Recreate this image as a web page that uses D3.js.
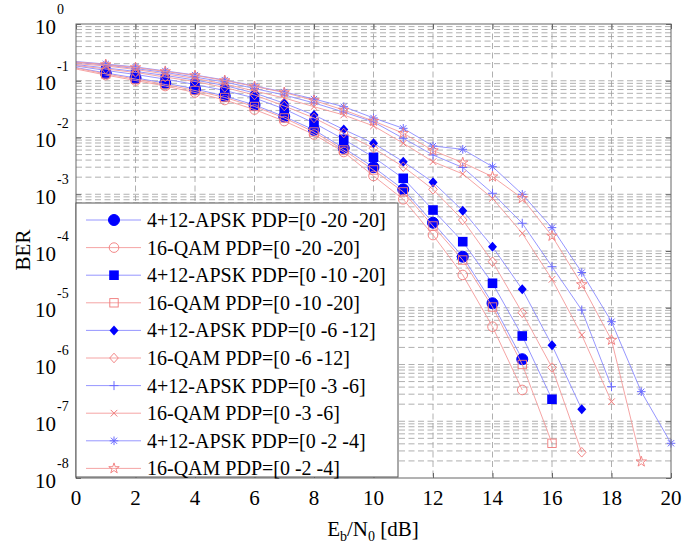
<!DOCTYPE html>
<html><head><meta charset="utf-8">
<script src="https://cdn.jsdelivr.net/npm/d3@7"></script>
<style>body{margin:0;background:#fff}</style>
</head><body><svg id="chart" width="685" height="549"></svg>
<script>
// ---- data ----
const ebn0 = [0,1,2,3,4,5,6,7,8,9,10,11,12,13,14,15,16,17,18,19,20];
const xTicks = [0,2,4,6,8,10,12,14,16,18,20];
const yTickExps = [0,-1,-2,-3,-4,-5,-6,-7,-8];
const legendLabels = [
  "4+12-APSK PDP=[0 -20 -20]","16-QAM PDP=[0 -20 -20]",
  "4+12-APSK PDP=[0 -10 -20]","16-QAM PDP=[0 -10 -20]",
  "4+12-APSK PDP=[0 -6 -12]","16-QAM PDP=[0 -6 -12]",
  "4+12-APSK PDP=[0 -3 -6]","16-QAM PDP=[0 -3 -6]",
  "4+12-APSK PDP=[0 -2 -4]","16-QAM PDP=[0 -2 -4]"];
const apsk_0_20_20 = [0.171,0.137,0.112,0.0912,0.0716,0.0538,0.0374,0.0234,0.0136,6.53e-3,2.99e-3,1.22e-3,3.15e-4,7.94e-5,1.20e-5,1.24e-6];
const qam_0_20_20  = [0.161,0.126,0.101,0.0808,0.0621,0.0458,0.0311,0.0195,0.0113,5.55e-3,2.1e-3,8.15e-4,1.91e-4,3.78e-5,4.64e-6,3.56e-7];
const apsk_0_10_20 = [0.182,0.152,0.129,0.107,0.0859,0.0673,0.0497,0.0318,0.0180,9.29e-3,4.48e-3,1.91e-3,5.27e-4,1.46e-4,2.70e-5,3.18e-6,2.44e-7];
const qam_0_10_20  = [0.168,0.132,0.107,0.0859,0.0673,0.0507,0.0352,0.0221,0.0125,6.02e-3,2.68e-3,1.10e-3,2.76e-4,6.94e-5,1.03e-5,1.00e-6,4.09e-8];
const apsk_0_6_12  = [0.193,0.168,0.146,0.124,0.103,0.0825,0.0608,0.0401,0.0249,0.0138,7.91e-3,3.75e-3,1.63e-3,5.13e-4,1.19e-4,2.11e-5,2.18e-6,1.62e-7];
const qam_0_6_12   = [0.186,0.161,0.140,0.116,0.0970,0.0760,0.0561,0.0359,0.0221,0.0120,6.45e-3,3.06e-3,1.22e-3,3.52e-4,6.48e-5,8.18e-6,8.85e-7,2.84e-8];
const apsk_0_3_6   = [0.210,0.190,0.164,0.140,0.116,0.0951,0.0730,0.0561,0.0406,0.0281,0.0188,9.68e-3,4.92e-3,2.96e-3,1.04e-3,3.08e-4,5.29e-5,9.12e-6,4.06e-7];
const qam_0_3_6    = [0.201,0.182,0.158,0.132,0.110,0.0877,0.0660,0.0497,0.0349,0.0249,0.0160,7.91e-3,3.75e-3,2.28e-3,8.49e-4,2.05e-4,3.17e-5,3.31e-6,2.21e-7];
const apsk_0_2_4   = [0.218,0.197,0.175,0.149,0.126,0.103,0.0808,0.0634,0.0477,0.0349,0.0221,0.0145,7.08e-3,6.19e-3,3.06e-3,9.98e-4,2.58e-4,4.18e-5,5.68e-6,3.32e-7,4.09e-8];
const qam_0_2_4    = [0.214,0.193,0.171,0.146,0.124,0.101,0.0792,0.0621,0.0449,0.0305,0.0195,0.0119,5.90e-3,3.60e-3,2.04e-3,8.49e-4,1.84e-4,2.57e-5,2.70e-6,1.94e-8];

const seriesData = [apsk_0_20_20,qam_0_20_20,apsk_0_10_20,qam_0_10_20,apsk_0_6_12,qam_0_6_12,apsk_0_3_6,qam_0_3_6,apsk_0_2_4,qam_0_2_4];
const markers = ["circleF","circleO","squareF","squareO","diamondF","diamondO","plus","cross","asterisk","star"];

// ---- layout ----
const FONT = "'Liberation Serif','Times New Roman',serif";
const L=76,R=671,T=24,B=478;
const svg = d3.select("#chart");
const x = d3.scaleLinear().domain([0,20]).range([L,R]);
const y = d3.scaleLog().domain([1e-8,1]).range([B,T]);

const BLUE="#0000ff", BLUEL="#6a6aff", RED="#f07a7a";
const LBLUE="#8a8aff", LRED="#f49a9a";

function txt(g){ return g.append("text").style("font-family",FONT).attr("fill","#000"); }

// grid
const grid = svg.append("g").attr("stroke","#9c9c9c").attr("stroke-width",0.8).attr("stroke-dasharray","6,3.5");
const gridVals=[];
for(let k=-8;k<0;k++){ for(let m=1;m<=9;m++){ gridVals.push(m*Math.pow(10,k)); } }
grid.selectAll("line.h").data(gridVals.filter((v,i)=>i>0)).enter().append("line")
  .attr("x1",L).attr("x2",R).attr("y1",d=>y(d)).attr("y2",d=>y(d));
grid.selectAll("line.v").data(xTicks.slice(1,-1)).enter().append("line")
  .attr("y1",T).attr("y2",B).attr("x1",d=>x(d)).attr("x2",d=>x(d));

// axes ticks (inward)
const axB = svg.append("g").attr("transform",`translate(0,${B})`)
  .call(d3.axisBottom(x).tickValues(xTicks).tickSize(-5).tickFormat(""));
axB.select(".domain").remove(); axB.selectAll("line").attr("stroke","#666");
const axT = svg.append("g").attr("transform",`translate(0,${T})`)
  .call(d3.axisTop(x).tickValues(xTicks).tickSize(-5).tickFormat(""));
axT.select(".domain").remove(); axT.selectAll("line").attr("stroke","#666");
const yTickVals = yTickExps.map(e=>Math.pow(10,e));
const axL = svg.append("g").attr("transform",`translate(${L},0)`)
  .call(d3.axisLeft(y).tickValues(yTickVals).tickSize(-5).tickFormat(""));
axL.select(".domain").remove(); axL.selectAll("line").attr("stroke","#666");
const axR = svg.append("g").attr("transform",`translate(${R},0)`)
  .call(d3.axisRight(y).tickValues(yTickVals).tickSize(-5).tickFormat(""));
axR.select(".domain").remove(); axR.selectAll("line").attr("stroke","#666");

// x tick labels
const xl = svg.append("g");
xTicks.forEach(t=>{
  txt(xl).attr("x",x(t)).attr("y",505).attr("text-anchor","middle").attr("font-size","21px").text(String(t));
});

// y tick labels with superscripts
const yl = svg.append("g");
yTickExps.forEach(e=>{
  const yy = y(Math.pow(10,e));
  txt(yl).attr("x",56).attr("y",yy+9.5).attr("text-anchor","end").attr("font-size","21px").text("10");
  txt(yl).attr("x",57).attr("y",yy-10).attr("text-anchor","start").attr("font-size","14px").text(e===0?"0":"-"+(-e));
});

// axis titles
const xt = txt(svg).attr("x",373).attr("y",536).attr("text-anchor","middle").attr("font-size","21px");
xt.append("tspan").text("E");
xt.append("tspan").attr("font-size","14px").attr("dy","5").text("b");
xt.append("tspan").attr("dy","-5").text("/N");
xt.append("tspan").attr("font-size","14px").attr("dy","5").text("0");
xt.append("tspan").attr("dy","-5").text(" [dB]");
txt(svg).attr("transform","translate(30,250) rotate(-90)").attr("text-anchor","middle").attr("font-size","21px").text("BER");

// marker drawing
function drawMarker(g,type,cx,cy){
  switch(type){
    case "circleF": g.append("circle").attr("cx",cx).attr("cy",cy).attr("r",5.5).attr("fill",BLUE).attr("stroke",BLUE); break;
    case "circleO": g.append("circle").attr("cx",cx).attr("cy",cy).attr("r",4.8).attr("fill","none").attr("stroke",RED).attr("stroke-width",0.9); break;
    case "squareF": g.append("rect").attr("x",cx-4.8).attr("y",cy-4.8).attr("width",9.6).attr("height",9.6).attr("fill",BLUE); break;
    case "squareO": g.append("rect").attr("x",cx-4.2).attr("y",cy-4.2).attr("width",8.4).attr("height",8.4).attr("fill","none").attr("stroke",RED).attr("stroke-width",0.9); break;
    case "diamondF": g.append("path").attr("d",`M${cx},${cy-5}L${cx+4.5},${cy}L${cx},${cy+5}L${cx-4.5},${cy}Z`).attr("fill",BLUE); break;
    case "diamondO": g.append("path").attr("d",`M${cx},${cy-4.8}L${cx+4.3},${cy}L${cx},${cy+4.8}L${cx-4.3},${cy}Z`).attr("fill","none").attr("stroke",RED).attr("stroke-width",0.9); break;
    case "plus": g.append("path").attr("d",`M${cx-4.5},${cy}H${cx+4.5}M${cx},${cy-4.5}V${cy+4.5}`).attr("stroke",BLUEL).attr("stroke-width",1); break;
    case "cross": g.append("path").attr("d",`M${cx-3.3},${cy-3.3}L${cx+3.3},${cy+3.3}M${cx-3.3},${cy+3.3}L${cx+3.3},${cy-3.3}`).attr("stroke",RED).attr("stroke-width",1); break;
    case "asterisk": g.append("path").attr("d",`M${cx-4.3},${cy}H${cx+4.3}M${cx},${cy-4.3}V${cy+4.3}M${cx-3.1},${cy-3.1}L${cx+3.1},${cy+3.1}M${cx-3.1},${cy+3.1}L${cx+3.1},${cy-3.1}`).attr("stroke",BLUEL).attr("stroke-width",1); break;
    case "star": g.append("path").attr("transform",`translate(${cx},${cy})`).attr("d",d3.symbol(d3.symbolStar,34)()).attr("fill","none").attr("stroke",RED).attr("stroke-width",0.9); break;
  }
}

// curves
const line = d3.line().x((d,i)=>x(ebn0[i])).y(d=>y(d));
const plot = svg.append("g");
seriesData.forEach((s,k)=>{
  const isA = k%2===0;
  const g = plot.append("g");
  g.append("path").attr("d",line(s)).attr("fill","none")
    .attr("stroke",isA?LBLUE:LRED).attr("stroke-width",0.9);
  s.forEach((v,i)=>{ if(i>0) drawMarker(g,markers[k],x(ebn0[i]),y(v)); });
});

// box
svg.append("rect").attr("x",L).attr("y",T).attr("width",R-L).attr("height",B-T).attr("fill","none").attr("stroke","#666").attr("stroke-width",1);

// legend
const lg = svg.append("g");
lg.append("rect").attr("x",76).attr("y",203).attr("width",322).attr("height",274).attr("fill","#fff").attr("stroke","#555").attr("stroke-width",1);
legendLabels.forEach((lab,i)=>{
  const cy = 220 + i*27.6;
  const isA = i%2===0;
  lg.append("line").attr("x1",86).attr("x2",141).attr("y1",cy).attr("y2",cy)
    .attr("stroke",isA?LBLUE:LRED).attr("stroke-width",0.9);
  drawMarker(lg,markers[i],114,cy);
  txt(lg).attr("x",147).attr("y",cy+7).attr("font-size","20px").text(lab);
});
</script></body></html>
